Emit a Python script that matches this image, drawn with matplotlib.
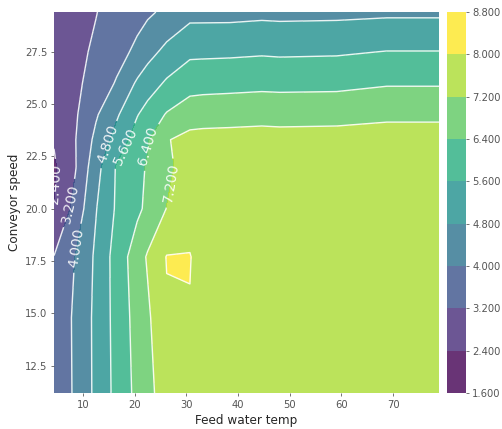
import numpy as np
import matplotlib.pyplot as plt

# grid of feed water temperatures (x) and conveyor speeds (y)
feed_temp = [4.4, 8.5, 12.5, 16.5, 20.5, 22.5, 26.2, 30.7, 33.2, 38.4, 44.6, 48.1, 59.1, 68.8, 78.9]
conveyor_speed = [11.2, 14.8, 17.7, 20.0, 22.0, 23.3, 24.5, 26.0, 27.5, 29.4]

# response values, one row per conveyor speed
response = [
    [3.40, 4.11, 4.97, 5.83, 6.61, 6.97, 7.60, 7.60, 7.60, 7.55, 7.55, 7.55, 7.55, 7.55, 7.55],
    [3.40, 4.13, 4.98, 5.87, 6.70, 7.06, 7.92, 7.95, 7.70, 7.55, 7.55, 7.55, 7.55, 7.55, 7.55],
    [3.22, 4.02, 4.93, 5.92, 6.82, 7.28, 8.03, 8.04, 7.60, 7.55, 7.55, 7.55, 7.55, 7.55, 7.55],
    [2.43, 3.46, 4.76, 5.70, 6.25, 6.56, 7.22, 7.60, 7.60, 7.55, 7.55, 7.55, 7.55, 7.55, 7.55],
    [2.30, 3.14, 4.50, 5.67, 6.20, 6.47, 7.02, 7.60, 7.60, 7.55, 7.55, 7.55, 7.55, 7.55, 7.55],
    [2.45, 3.17, 4.19, 5.10, 5.97, 6.34, 7.15, 7.45, 7.48, 7.50, 7.50, 7.50, 7.50, 7.55, 7.55],
    [2.60, 3.10, 3.91, 4.69, 5.56, 5.90, 6.46, 6.81, 6.85, 6.88, 6.95, 6.91, 6.95, 7.05, 7.05],
    [2.75, 3.05, 3.48, 4.07, 4.91, 5.22, 5.71, 6.11, 6.14, 6.17, 6.20, 6.19, 6.20, 6.33, 6.33],
    [2.85, 3.05, 3.29, 3.70, 4.18, 4.53, 5.01, 5.43, 5.44, 5.46, 5.51, 5.48, 5.51, 5.62, 5.62],
    [2.95, 3.07, 3.18, 3.44, 3.73, 3.87, 4.17, 4.56, 4.56, 4.56, 4.61, 4.59, 4.61, 4.66, 4.66],
]

levels = [1.6, 2.4, 3.2, 4.0, 4.8, 5.6, 6.4, 7.2, 8.0, 8.8]
x_ticks = [10, 20, 30, 40, 50, 60, 70]
y_ticks = [12.5, 15.0, 17.5, 20.0, 22.5, 25.0, 27.5]

# where the inline contour labels go
label_spots = [(4.7, 21.2), (6.5, 20.3), (9.2, 18.1), (14.6, 23.1),
               (18.1, 23.0), (22.2, 23.0), (27.6, 21.2)]

X, Y = np.meshgrid(feed_temp, conveyor_speed)
Z = np.array(response)

# colour the bands so the lowest and highest span the full colormap
band_mid = [(a + b) / 2 for a, b in zip(levels[:-1], levels[1:])]

fig = plt.figure(figsize=(502 / 72, 429 / 72), dpi=72)
ax = fig.add_axes([0.1076, 0.0839, 0.7669, 0.8881])
cax = fig.add_axes([0.890, 0.0839, 0.0378, 0.8881])

cf = ax.contourf(X, Y, Z, levels=levels, cmap="viridis", alpha=0.8,
                 vmin=band_mid[0], vmax=band_mid[-1])
cs = ax.contour(X, Y, Z, levels=levels, colors="white", linewidths=1.4, alpha=0.9)
ax.clabel(cs, fmt="%1.3f", fontsize=14, manual=label_spots, inline=True)

ax.set_xticks(x_ticks)
ax.set_yticks(y_ticks)
ax.set_xlabel("Feed water temp", fontsize=12, color="#262626")
ax.set_ylabel("Conveyor speed", fontsize=12, color="#262626")
for s in ax.spines.values():
    s.set_visible(False)
ax.tick_params(labelsize=10, colors="#555555", length=3, width=0.8)

cb = fig.colorbar(cf, cax=cax, format="%.3f")
cb.set_ticks(levels)
cb.outline.set_visible(False)
cb.ax.tick_params(labelsize=10, colors="#555555", length=3, width=0.8)

fig.savefig("out.png", dpi=72)
